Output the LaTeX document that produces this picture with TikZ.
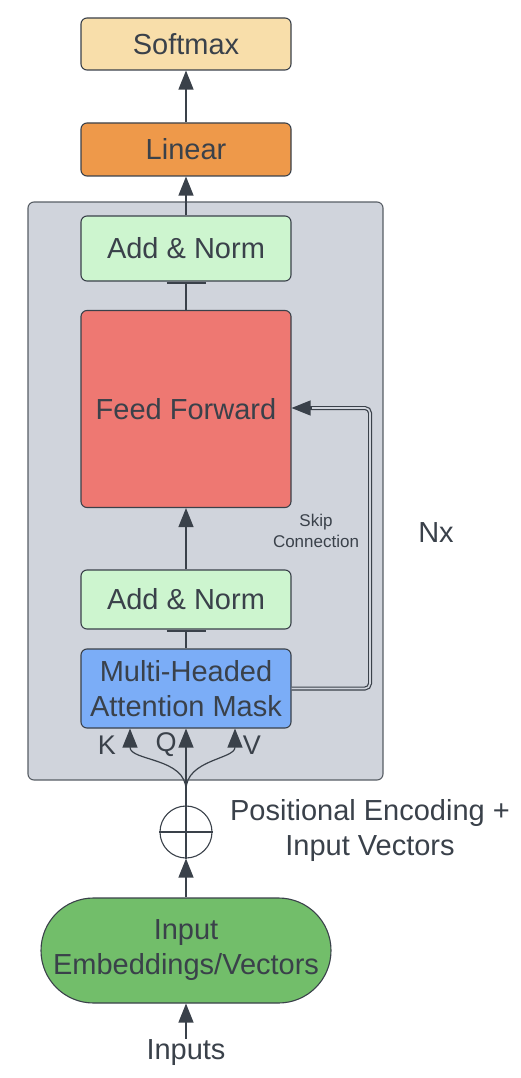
\documentclass[tikz,border=0pt]{standalone}
\usepackage{fontspec}
\setmainfont{Liberation Sans}
\usetikzlibrary{arrows.meta,shapes.misc}

\definecolor{ink}{HTML}{3A414A}
\definecolor{panel}{HTML}{D0D4DC}
\definecolor{softmaxfill}{HTML}{F8DEAA}
\definecolor{linearfill}{HTML}{EE994A}
\definecolor{normfill}{HTML}{CDF5CF}
\definecolor{fffill}{HTML}{EE7872}
\definecolor{attnfill}{HTML}{7BADF7}
\definecolor{embfill}{HTML}{72BE6A}

\begin{document}
\begin{tikzpicture}[x=1pt,y=1pt,
  every node/.style={font=\fontsize{29}{35}\selectfont, text=ink, align=center},
  box/.style={draw=ink, line width=1.1pt, rounded corners=6pt, minimum width=210pt, inner sep=0pt},
  link/.style={draw=ink, line width=1.2pt},
  tip/.style={-{Triangle[width=15pt,length=19pt]}},
  tick/.style={-{Bar[width=39pt,line width=2.2pt,sep=0pt]}}
  ]
\useasboundingbox (0,0) rectangle (520,-1078);
% the repeated layer
\node[draw=ink!85, fill=panel, line width=1.1pt, rounded corners=6pt,
  minimum width=355pt, minimum height=578pt, inner sep=0pt] (layer) at (205.5,-491) {};
\node at (436,-533) (nx) {Nx};
% output side
\node[box, fill=softmaxfill, minimum height=52pt] (softmax) at (186,-44) {Softmax};
\node[box, fill=linearfill, minimum height=53pt] (linear) at (186,-149.5) {Linear};
% inside the layer
\node[box, fill=normfill, minimum height=65pt] (norm1) at (186,-248.5) {Add \& Norm};
\node[box, fill=fffill, minimum height=197pt] (ff) at (186,-409) {Feed Forward};
\node[box, fill=normfill, minimum height=59pt] (norm2) at (186,-599.5) {Add \& Norm};
\node[box, fill=attnfill, minimum height=79pt] (attn) at (186,-688.5) {Multi-Headed\\Attention Mask};
\node[font=\fontsize{17}{21}\selectfont] (skip) at (316,-531) {Skip\\Connection};
\node[font=\fontsize{27}{30}\selectfont] (k) at (107,-745) {K};
\node[font=\fontsize{27}{30}\selectfont] (q) at (166,-745) {Q};
\node[font=\fontsize{27}{30}\selectfont] (v) at (252,-745) {V};
% input side
\node[draw=ink, fill=white, line width=1.1pt, circle, minimum size=52pt, inner sep=0pt] (pe) at (186,-832) {};
\draw[link] (pe.north) -- (pe.south);
\draw[link] (pe.west) -- (pe.east);
\node (pelabel) at (370,-830) {Positional Encoding +\\Input Vectors};
\node[draw=ink, fill=embfill, line width=1.1pt, rounded rectangle, minimum width=290pt,
  minimum height=105pt, inner sep=0pt] (emb) at (186,-950.5) {Input\\Embeddings/Vectors};
\node[inner sep=1pt] (inputs) at (186,-1053) {Inputs};
\coordinate (split) at (186,-790);
\coordinate (bend) at (370,-408);

% connectors
\draw[link, tip] (inputs.north) -- (emb.south);
\draw[link, tip] (emb.north) -- (pe.south);
\draw[link] (pe.north) -- (split);
\draw[link, tip] (split) -- (attn.south);
\draw[link, tip] (split) to[out=90,in=-90] ([xshift=-56pt]attn.south);
\draw[link, tip] (split) to[out=90,in=-90] ([xshift=49pt]attn.south);
\draw[link, tick] (attn.north) -- (norm2.south);
\draw[link, tip] (norm2.north) -- (ff.south);
\draw[link, tick] (ff.north) -- (norm1.south);
\draw[link, tip] (norm1.north) -- (linear.south);
\draw[link, tip] (linear.north) -- (softmax.south);
% skip connection
\draw[link, double=panel, double distance=1.6pt, rounded corners=5pt]
  (attn.east) -| (bend) -- ([xshift=18pt]bend -| ff.east);
\draw[link, tip] ([xshift=20pt]bend -| ff.east) -- (bend -| ff.east);
\end{tikzpicture}
\end{document}
